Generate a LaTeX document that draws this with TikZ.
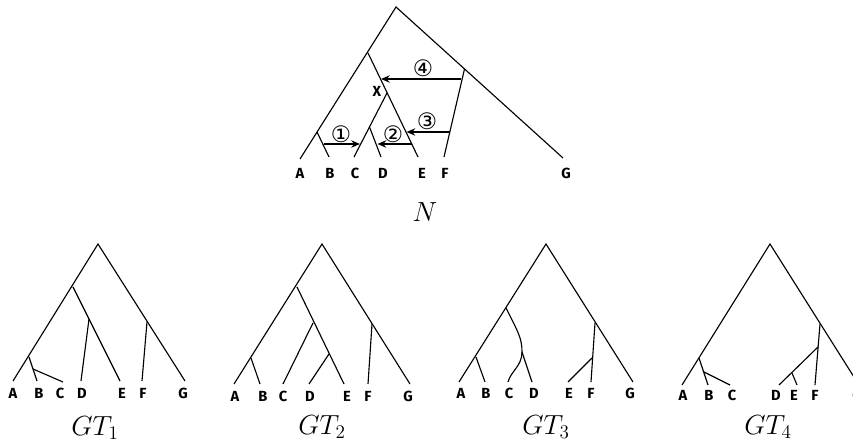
\documentclass[tikz,border=0pt]{standalone}
\usepackage{fontspec}
\setsansfont{Fira Sans}
\newfontfamily\circfont{DejaVu Sans}
\usetikzlibrary{arrows.meta}
\tikzset{
  br/.style={line width=0.85pt},
  hgt/.style={line width=1.5pt,-{Stealth[length=6.5pt,width=5.5pt]}},
  leaf/.style={font=\sffamily\bfseries\fontsize{11}{13}\selectfont,inner sep=0pt},
  num/.style={font=\circfont\fontsize{17}{19}\selectfont,inner sep=0pt},
  ttl/.style={font=\fontsize{22}{26}\selectfont,inner sep=0pt}
}
\begin{document}
\begin{tikzpicture}[x=0.75pt,y=-0.75pt]
\clip (0,0) rectangle (853,448);
% ---------------- Network N ----------------
\coordinate (nr) at (396,7);
\coordinate (nA) at (300,159);
\coordinate (nG) at (563,158);
\coordinate (nu) at (368,53);
\coordinate (nE) at (418,157);
\coordinate (nx) at (387,93);
\coordinate (nC) at (354,157);
\coordinate (nd) at (369.5,127);
\coordinate (nD) at (381,157);
\coordinate (nb) at (317,132);
\coordinate (nB) at (329,157);
\coordinate (nf) at (464.5,69);
\coordinate (nF) at (444,157);
\draw[br] (nA) -- (nr) -- (nG);
\draw[br] (nu) -- (nE);
\draw[br] (nx) -- (nC);
\draw[br] (nd) -- (nD);
\draw[br] (nb) -- (nB);
\draw[br] (nf) -- (nF);
\coordinate (a1s) at (323.8,144);
\coordinate (a1e) at (360,144);
\coordinate (a2s) at (411.5,144);
\coordinate (a2e) at (377.5,144);
\coordinate (a3s) at (449.5,132);
\coordinate (a3e) at (406.5,132);
\coordinate (a4s) at (461,79);
\coordinate (a4e) at (381,79);
\draw[hgt] (a1s) -- (a1e);
\draw[hgt] (a2s) -- (a2e);
\draw[hgt] (a3s) -- (a3e);
\draw[hgt] (a4s) -- (a4e);
\node[num] (c1) at (341,134) {①};
\node[num] (c2) at (393,134) {②};
\node[num] (c3) at (427,121) {③};
\node[num] (c4) at (423,68) {④};
\node[leaf] (lx) at (377,91) {X};
\node[leaf] (lA) at (300,173) {A};
\node[leaf] (lB) at (330,173) {B};
\node[leaf] (lC) at (355,173) {C};
\node[leaf] (lD) at (383,173) {D};
\node[leaf] (lE) at (422,173) {E};
\node[leaf] (lF) at (445,173) {F};
\node[leaf] (lG) at (566,173) {G};
\node[ttl] (tN) at (425,212) {$N$};
% ---------------- GT1 ----------------
\coordinate (ar) at (98,244);
\coordinate (aA) at (13,381);
\coordinate (aG) at (185,381);
\coordinate (au) at (73,287);
\coordinate (aE) at (120,381);
\coordinate (ad) at (89,319);
\coordinate (aD) at (81,381);
\coordinate (ab) at (29,357);
\coordinate (aB) at (37,381);
\coordinate (ac) at (33,369);
\coordinate (aC) at (63,382);
\coordinate (af) at (147,322);
\coordinate (aF) at (142,381);
\draw[br] (aA) -- (ar) -- (aG);
\draw[br] (au) -- (aE);
\draw[br] (ad) -- (aD);
\draw[br] (ab) -- (aB);
\draw[br] (ac) -- (aC);
\draw[br] (af) -- (aF);
\node[leaf] (a-A) at (13,393) {A};
\node[leaf] (a-B) at (39,393) {B};
\node[leaf] (a-C) at (60,393) {C};
\node[leaf] (a-D) at (82,393) {D};
\node[leaf] (a-E) at (122,393) {E};
\node[leaf] (a-F) at (143,393) {F};
\node[leaf] (a-G) at (183,393) {G};
\node[ttl] (t1) at (95,428) {$GT_1$};
% ---------------- GT2 ----------------
\coordinate (br) at (322,244);
\coordinate (bA) at (234,384);
\coordinate (bG) at (410,384);
\coordinate (bu) at (297,287);
\coordinate (bE) at (344,384);
\coordinate (bc) at (313,323);
\coordinate (bC) at (283,384);
\coordinate (bd) at (329,354);
\coordinate (bD) at (309,384);
\coordinate (bb) at (251,358);
\coordinate (bB) at (260,384);
\coordinate (bf) at (372,324);
\coordinate (bF) at (368,384);
\draw[br] (bA) -- (br) -- (bG);
\draw[br] (bu) -- (bE);
\draw[br] (bc) -- (bC);
\draw[br] (bd) -- (bD);
\draw[br] (bb) -- (bB);
\draw[br] (bf) -- (bF);
\node[leaf] (b-A) at (235,396) {A};
\node[leaf] (b-B) at (263,396) {B};
\node[leaf] (b-C) at (283,396) {C};
\node[leaf] (b-D) at (310,396) {D};
\node[leaf] (b-E) at (347,396) {E};
\node[leaf] (b-F) at (368,396) {F};
\node[leaf] (b-G) at (408,396) {G};
\node[ttl] (t2) at (322,427) {$GT_2$};
% ---------------- GT3 ----------------
\coordinate (cr) at (546,244);
\coordinate (cA) at (459,382);
\coordinate (cG) at (633,382);
\coordinate (cu) at (506,308);
\coordinate (cj) at (522,352);
\coordinate (cD) at (532,382);
\coordinate (cC) at (508,382);
\coordinate (cb) at (476,357);
\coordinate (cB) at (485,382);
\coordinate (cf) at (595,323);
\coordinate (cF) at (591,382);
\coordinate (ce) at (592,358);
\coordinate (cE) at (568,382);
\draw[br] (cA) -- (cr) -- (cG);
\draw[br] (cu) .. controls (518,332) and (522,338) .. (cj) -- (cD);
\draw[br] (cj) .. controls (522,366) and (511,371) .. (cC);
\draw[br] (cb) -- (cB);
\draw[br] (cf) -- (cF);
\draw[br] (ce) -- (cE);
\node[leaf] (c-A) at (461,393) {A};
\node[leaf] (c-B) at (486,393) {B};
\node[leaf] (c-C) at (509,393) {C};
\node[leaf] (c-D) at (534,393) {D};
\node[leaf] (c-E) at (569,393) {E};
\node[leaf] (c-F) at (591,393) {F};
\node[leaf] (c-G) at (630,393) {G};
\node[ttl] (t3) at (546,427) {$GT_3$};
% ---------------- GT4 ----------------
\coordinate (dr) at (770,244);
\coordinate (dA) at (682,385);
\coordinate (dG) at (859,385);
\coordinate (db) at (699,358);
\coordinate (dB) at (708,385);
\coordinate (dc) at (704,372);
\coordinate (dC) at (730,385);
\coordinate (df) at (820,324);
\coordinate (dF) at (815,385);
\coordinate (dg) at (818,347);
\coordinate (dD) at (779,385);
\coordinate (de) at (792,373);
\coordinate (dE) at (797,385);
\draw[br] (dA) -- (dr) -- (dG);
\draw[br] (db) -- (dB);
\draw[br] (dc) -- (dC);
\draw[br] (df) -- (dF);
\draw[br] (dg) -- (dD);
\draw[br] (de) -- (dE);
\node[leaf] (d-A) at (683,395) {A};
\node[leaf] (d-B) at (709,395) {B};
\node[leaf] (d-C) at (732,395) {C};
\node[leaf] (d-D) at (776,395) {D};
\node[leaf] (d-E) at (794,395) {E};
\node[leaf] (d-F) at (815,395) {F};
\node[leaf] (d-G) at (857,395) {G};
\node[ttl] (t4) at (768,427) {$GT_4$};
\end{tikzpicture}
\end{document}
